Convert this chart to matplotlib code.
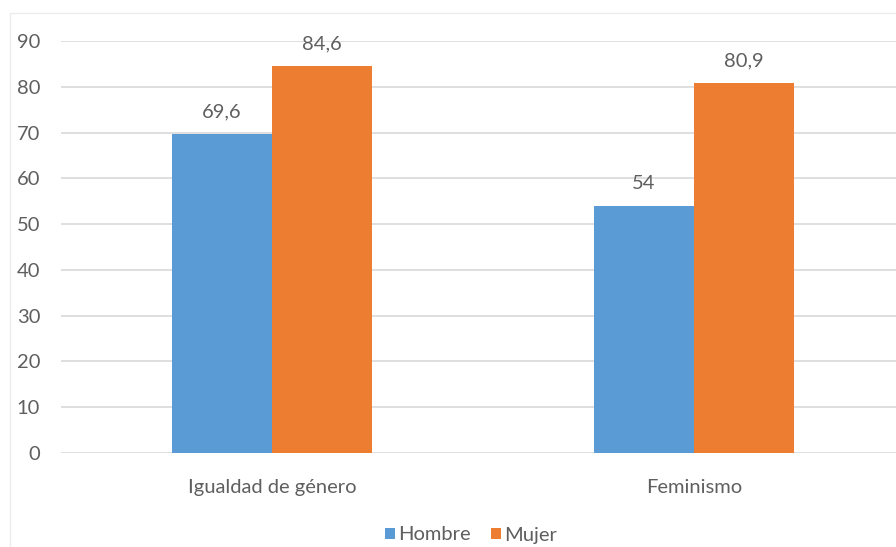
import numpy as np
import matplotlib.pyplot as plt
from matplotlib.patches import Rectangle

categories = ["Igualdad de género", "Feminismo"]
hombre = [69.6, 54]
mujer = [84.6, 80.9]
hombre_labels = ["69,6", "54"]
mujer_labels = ["84,6", "80,9"]
yticks = [0, 10, 20, 30, 40, 50, 60, 70, 80, 90]

BLUE = "#5B9BD5"
ORANGE = "#ED7D31"
TEXT = "#5F5F5F"
GRID = "#D9D9D9"
FS = 14.5

plt.rcParams['font.family'] = ['Lato', 'DejaVu Sans']

fig = plt.figure(figsize=(8.96, 5.47), dpi=100)
# faint chart border
fig.add_artist(Rectangle((10 / 896, -0.1), 1.0, 1 - 13 / 547 + 0.1,
                         transform=fig.transFigure, fill=False,
                         edgecolor="#EBEBEB", linewidth=1))

ax = fig.add_axes([61 / 896, 1 - 453 / 547, 844 / 896, 412 / 547])
x = np.arange(len(categories))
w = 0.237
b1 = ax.bar(x - w / 2, hombre, w, color=BLUE, label="Hombre")
b2 = ax.bar(x + w / 2, mujer, w, color=ORANGE, label="Mujer")

for rect, lab in zip(b1, hombre_labels):
    ax.text(rect.get_x() + rect.get_width() / 2, rect.get_height() + 3.0, lab,
            ha="center", va="bottom", fontsize=FS, color=TEXT)
for rect, lab in zip(b2, mujer_labels):
    ax.text(rect.get_x() + rect.get_width() / 2, rect.get_height() + 3.0, lab,
            ha="center", va="bottom", fontsize=FS, color=TEXT)

ax.set_xlim(-0.5, 1.5)
ax.set_ylim(0, 90)
ax.set_yticks(yticks)
ax.set_xticks(x)
ax.set_xticklabels(categories)
ax.tick_params(axis="both", length=0, labelsize=FS, colors=TEXT)
ax.tick_params(axis="y", pad=15)
ax.tick_params(axis="x", pad=19)
ax.yaxis.grid(True, color=GRID, linewidth=1.2)
ax.set_axisbelow(True)
for s in ax.spines.values():
    s.set_visible(False)

fig.legend(handles=[b1, b2], loc="center", bbox_to_anchor=(471 / 896, 1 - 535 / 547),
           ncol=2, frameon=False, fontsize=FS, labelcolor=TEXT,
           handlelength=0.5, handleheight=0.5, handletextpad=0.15, columnspacing=1.0)

fig.savefig("out.png", dpi=100, facecolor="white")
